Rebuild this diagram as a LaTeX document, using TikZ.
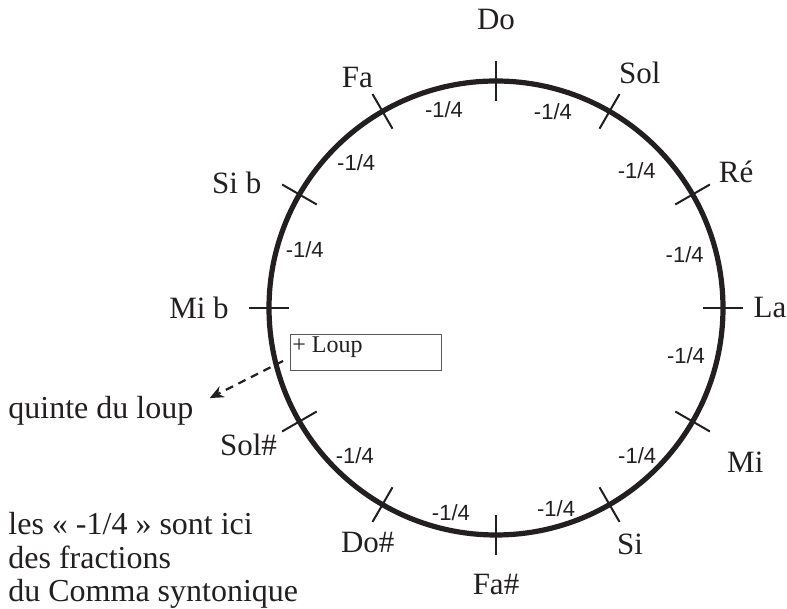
\documentclass[tikz,border=0pt]{standalone}
\usepackage{fontspec}
\setmainfont{Liberation Serif}
\newfontfamily\fracfont{Liberation Sans}
\definecolor{ink}{RGB}{35,31,32}
\usetikzlibrary{arrows.meta,calc,positioning}

\tikzset{
  notelabel/.style={font=\fontsize{15.5}{18}\selectfont, text=ink, inner sep=1pt},
  commalabel/.style={font=\fracfont\fontsize{11}{13}\selectfont, text=ink, inner sep=1pt},
  tickmark/.style={line width=1pt, ink},
  ring/.style={line width=2.6pt, ink},
  loupbox/.style={draw=black!65, line width=0.5pt, minimum width=75.5pt, minimum height=18pt, inner sep=0pt},
  remark/.style={font=\fontsize{16}{16.8}\selectfont, text=ink, inner sep=0pt, align=left},
}

\begin{document}
\begin{tikzpicture}[x=0.5pt,y=0.5pt]
\useasboundingbox (0,0) rectangle (787,609);
\coordinate (centre) at (496,301);

% cercle des quintes
\draw[ring] (centre) circle (227);

% traits et noms des notes
\foreach \a/\la/\r/\name [count=\i] in {90/90/288/Do, 60/58.6/276/Sol, 30/29.5/276/Ré,
    0/0/274/La, -30/-31.7/293/Mi, -60/-60.5/272/Si, -90/-90/277/Fa\#,
    -120/-118.7/267/Do\#, -150/-151/283/Sol\#, 180/180/297/Mi b,
    150/154.2/288/Si b, 120/121/269/Fa}{
  \draw[tickmark] ($(centre)+(\a:207)$) -- ($(centre)+(\a:247)$);
  \node[notelabel] (note\i) at ($(centre)+(\la:\r)$) {\name};
}

% fractions de comma
\foreach \a/\r [count=\i] in {104.7/205, 73.8/204, 44.4/197, 15.7/196, -14.2/196,
    -46.2/204, -73.3/209, -102.4/210, -133.8/204, 163/200, 133.8/202}{
  \node[commalabel] (comma\i) at ($(centre)+(\a:\r)$) {-1/4};
}

% le loup
\node[loupbox, anchor=north west] (loupbox) at (290,275) {};
\node[font=\fontsize{12}{13}\selectfont, text=ink, inner sep=1pt, anchor=north west]
  (loup) at (loupbox.north west) {+ Loup};
\coordinate (loupstart) at (283,248);
\node[remark, anchor=west] (quinte) at (8,198) {quinte du loup};
\draw[ink, line width=1.1pt, dash pattern=on 4pt off 3pt, -{Stealth[length=7pt,width=6pt]}]
  (loupstart) -- ([shift={(16,-2)}]quinte.north east);

% remarque
\node[remark, anchor=north west] (remarque) at (8,97)
  {les « -1/4 » sont ici\\des fractions\\du Comma syntonique};
\end{tikzpicture}
\end{document}
